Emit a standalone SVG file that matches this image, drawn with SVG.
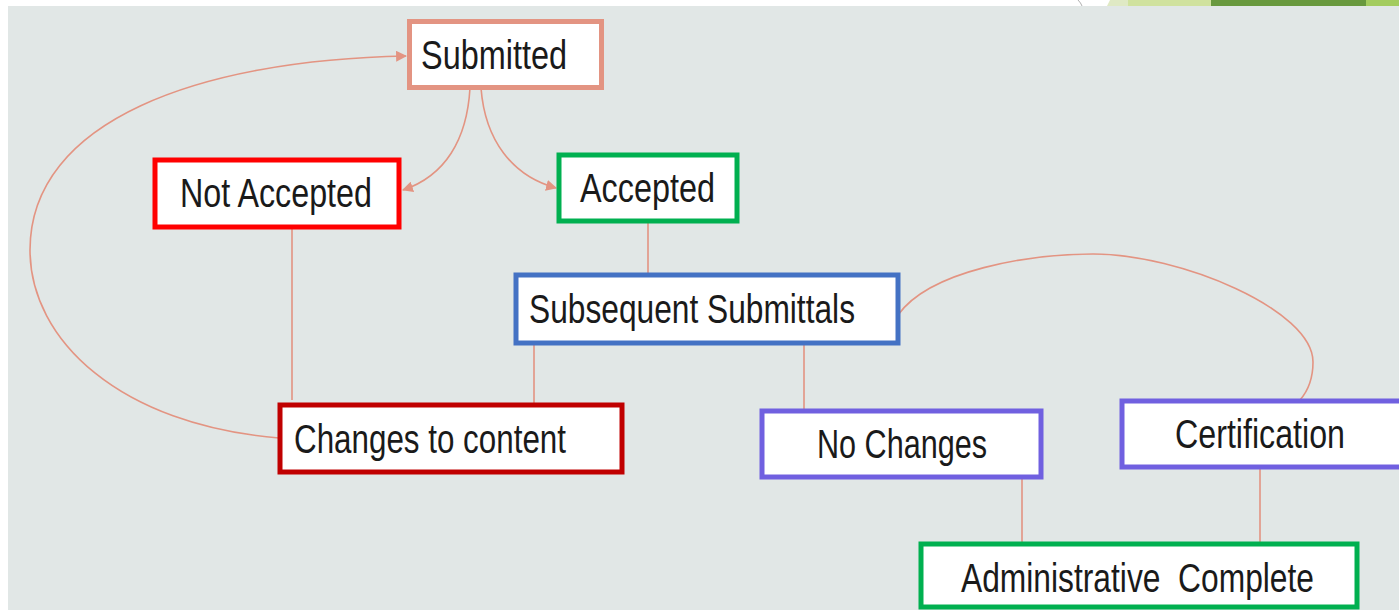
<svg xmlns="http://www.w3.org/2000/svg" width="1399" height="610" viewBox="0 0 1399 610">
<defs>
<style>
.node rect{fill:#ffffff;stroke-width:5}
.node text{font-family:"Liberation Sans","Arial",sans-serif;font-size:41px;fill:#1a1a1a;white-space:pre}
.conn path,.conn line{fill:none;stroke:#e39482;stroke-width:1.6}
</style>
<marker id="arr" viewBox="0 0 10 10" refX="9" refY="5" markerWidth="11" markerHeight="11" markerUnits="userSpaceOnUse" orient="auto">
<path d="M0,0 L10,5 L0,10 z" fill="#e39482"/>
</marker>
</defs>
<rect x="0" y="0" width="1399" height="610" fill="#ffffff"/>
<rect x="8" y="6" width="1391" height="604" fill="#e1e7e6"/>
<g id="decoration">
<path d="M1078,0 Q1081,3 1082,6" fill="none" stroke="#b0b0b0" stroke-width="1"/>
<path d="M1110,0 L1128,0 L1128,6 L1107,6 Z" fill="#dfe9c4"/>
<rect x="1128" y="0" width="83" height="6" fill="#d0e29e"/>
<rect x="1211" y="0" width="155" height="6" fill="#68993e"/>
<rect x="1366" y="0" width="33" height="6" fill="#a3cc5e"/>
</g>
<g id="connectors" class="conn">
<path d="M470,88 C467,140 445,176 403,190" marker-end="url(#arr)"/>
<path d="M481,88 C485,140 512,176 556,188" marker-end="url(#arr)"/>
<path d="M279,438 C120,425 30,340 30,250 C30,120 200,60 406,56" marker-end="url(#arr)"/>
<line x1="292" y1="228" x2="292" y2="400"/>
<line x1="648" y1="222" x2="648" y2="274"/>
<line x1="534" y1="344" x2="534" y2="410"/>
<line x1="804" y1="344" x2="804" y2="411"/>
<path d="M898,315 C930,270 1030,254 1093,254 C1180,254 1313,310 1313,362 C1313,380 1307,392 1300,400"/>
<line x1="1022" y1="478" x2="1022" y2="544"/>
<line x1="1260" y1="468" x2="1260" y2="544"/>
</g>
<g id="submitted" class="node">
<rect x="409.5" y="21.5" width="192" height="66" stroke="#e39482"/>
<text x="421" y="69" textLength="146" lengthAdjust="spacingAndGlyphs">Submitted</text>
</g>
<g id="not-accepted" class="node">
<rect x="155" y="160" width="244" height="67" stroke="#ff0000"/>
<text x="180" y="207" textLength="192" lengthAdjust="spacingAndGlyphs">Not Accepted</text>
</g>
<g id="accepted" class="node">
<rect x="559" y="155" width="178" height="66" stroke="#00b050"/>
<text x="580" y="202" textLength="135" lengthAdjust="spacingAndGlyphs">Accepted</text>
</g>
<g id="subsequent-submittals" class="node">
<rect x="516" y="275" width="382" height="68" stroke="#4472c4"/>
<text x="529" y="323" textLength="326" lengthAdjust="spacingAndGlyphs">Subsequent Submittals</text>
</g>
<g id="changes-to-content" class="node">
<rect x="280" y="405" width="342" height="67" stroke="#c00000"/>
<text x="294" y="453" textLength="272" lengthAdjust="spacingAndGlyphs">Changes to content</text>
</g>
<g id="no-changes" class="node">
<rect x="762" y="411" width="279" height="66" stroke="#7060e0"/>
<text x="817" y="458" textLength="170" lengthAdjust="spacingAndGlyphs">No Changes</text>
</g>
<g id="certification" class="node">
<rect x="1122" y="401" width="290" height="66" stroke="#7060e0"/>
<text x="1175" y="448" textLength="170" lengthAdjust="spacingAndGlyphs">Certification</text>
</g>
<g id="administrative-complete" class="node">
<rect x="921" y="544" width="436" height="63" stroke="#00b050"/>
<text x="961" y="592" textLength="353" lengthAdjust="spacingAndGlyphs" xml:space="preserve">Administrative  Complete</text>
</g>
</svg>
